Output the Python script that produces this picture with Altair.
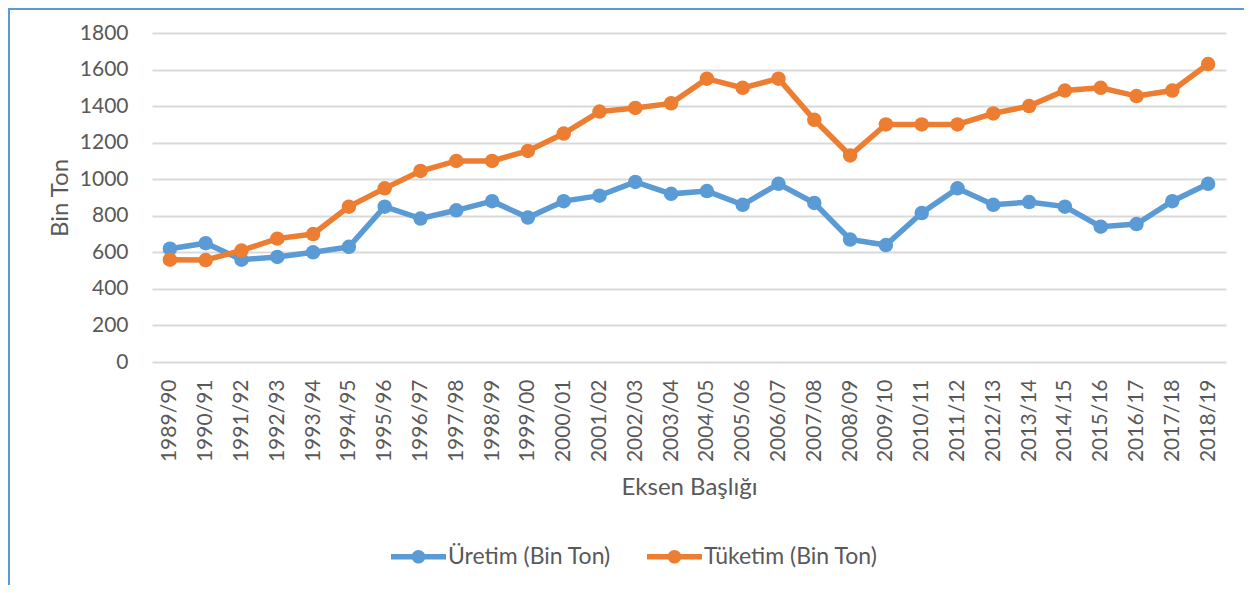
import altair as alt
import pandas as pd

seasons = ["1989/90", "1990/91", "1991/92", "1992/93", "1993/94", "1994/95",
           "1995/96", "1996/97", "1997/98", "1998/99", "1999/00", "2000/01",
           "2001/02", "2002/03", "2003/04", "2004/05", "2005/06", "2006/07",
           "2007/08", "2008/09", "2009/10", "2010/11", "2011/12", "2012/13",
           "2013/14", "2014/15", "2015/16", "2016/17", "2017/18", "2018/19"]

uretim = [620, 650, 560, 575, 600, 630, 850, 785, 830, 880, 790, 880,
          910, 985, 920, 935, 860, 975, 870, 670, 640, 815, 950, 860,
          875, 850, 740, 755, 880, 975]

tuketim = [560, 558, 610, 675, 700, 850, 950, 1045, 1100, 1100, 1155, 1250,
           1370, 1390, 1415, 1550, 1500, 1550, 1325, 1130, 1300, 1300, 1300, 1360,
           1400, 1485, 1500, 1455, 1485, 1630]

series_names = ["Üretim (Bin Ton)", "Tüketim (Bin Ton)"]
series_colors = ["#5B9BD5", "#ED7D31"]

rows = []
for name, vals in zip(series_names, [uretim, tuketim]):
    for s, v in zip(seasons, vals):
        rows.append({"Sezon": s, "Seri": name, "Değer": v})
df = pd.DataFrame(rows)

FONT = "Lato"
TXT = "#595959"
W, H = 1074, 329

legend_path = ("M-2.5,-0.25H2.5V0.25H-2.5Z "
               "M0.62,0A0.62,0.62,0,1,1,-0.62,0A0.62,0.62,0,1,1,0.62,0Z")

lines = alt.Chart(df).mark_line(
    strokeWidth=5.5,
    point=alt.OverlayMarkDef(filled=True, size=210, opacity=1),
).encode(
    x=alt.X("Sezon:N", sort=seasons,
            scale=alt.Scale(type="point", padding=0.5),
            axis=alt.Axis(title="Eksen Başlığı", labelAngle=270, labelAlign="right",
                          labelBaseline="middle", labelPadding=17, labelFontSize=21,
                          labelFont=FONT, labelColor=TXT, ticks=False, tickSize=0,
                          domain=False, grid=False,
                          titleFont=FONT, titleFontSize=24, titleFontWeight="normal",
                          titleColor=TXT, titleX=W / 2, titleY=125,
                          titleAlign="center", titleBaseline="middle")),
    y=alt.Y("Değer:Q", scale=alt.Scale(domain=[0, 1800], nice=False),
            axis=alt.Axis(title="Bin Ton", values=list(range(0, 1801, 200)),
                          format="d",
                          labelFontSize=21, labelFont=FONT, labelColor=TXT,
                          labelPadding=24, ticks=False, tickSize=0, domain=False,
                          grid=True, gridColor="#D9D9D9", gridWidth=2,
                          titleFont=FONT, titleFontSize=24, titleFontWeight="normal",
                          titleColor=TXT, titleX=-92, titleY=H / 2, titleAngle=270,
                          titleAlign="center", titleBaseline="middle")),
    color=alt.Color("Seri:N", sort=series_names,
                    scale=alt.Scale(domain=series_names, range=series_colors),
                    legend=alt.Legend(title=None, orient="none", direction="horizontal",
                                      legendX=255, legendY=512, padding=0,
                                      columnPadding=36, symbolType=legend_path,
                                      symbolSize=484, symbolStrokeWidth=0,
                                      symbolOpacity=1,
                                      labelOffset=18, labelFont=FONT,
                                      labelFontSize=23, labelColor=TXT,
                                      labelLimit=400)),
)

frame = pd.DataFrame({"k": [0]})
left_border = alt.Chart(frame).mark_rule(color="#5B9BD5", strokeWidth=2).encode(
    x=alt.value(-143), y=alt.value(-25), y2=alt.value(560))
top_border = alt.Chart(frame).mark_rule(color="#5B9BD5", strokeWidth=2).encode(
    x=alt.value(-144), x2=alt.value(1100), y=alt.value(-24))

chart = alt.layer(lines, left_border, top_border).properties(
    width=W, height=H,
    autosize=alt.AutoSizeParams(type="none"),
    padding={"left": 144, "top": 25, "right": 18, "bottom": 223},
    background="white",
).configure_view(stroke=None)

chart.save("out.html", embed_options={"renderer": "svg", "actions": False})
